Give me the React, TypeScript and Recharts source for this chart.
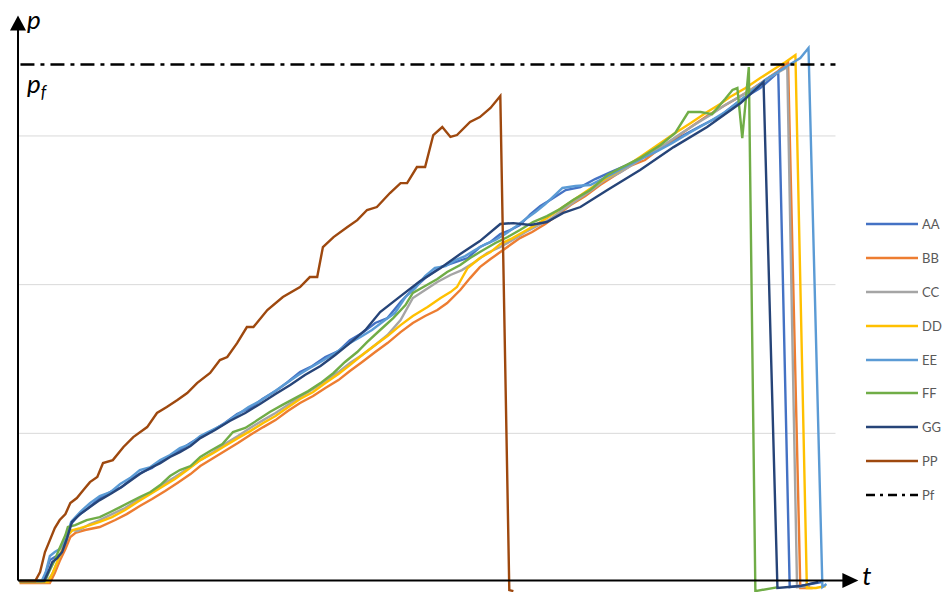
import React from 'react';
import { LineChart, Line, XAxis, YAxis, ReferenceLine, ReferenceDot, Legend } from 'recharts';

// ---- data (t: time units 0..100 across the grid, p: pressure, gridlines every 100) ----
const seriesNames = ['AA', 'BB', 'CC', 'DD', 'EE', 'FF', 'GG', 'PP'];
const seriesColors = ['#4472C4', '#ED7D31', '#A5A5A5', '#FFC000', '#5B9BD5', '#70AD47', '#264478', '#9E480E'];
const gridValues = [100, 200, 300];
const pfValue = 348;
const gridEndT = 100;

const AA: [number, number][] = [
  [0.2, 0.7], [3.1, 0.7], [3.5, 8.1], [3.9, 14.8], [4.5, 16.8], [5.1, 18.2], [5.8, 24.9], [6.4, 38.3], [7.3, 44.4], [8.6, 49.8],
  [10.0, 56.5], [11.5, 61.2], [12.7, 63.9], [14.0, 69.9], [15.2, 74.0], [16.4, 76.7], [17.4, 81.4], [18.6, 84.7], [19.8, 88.8], [21.1, 93.5],
  [22.3, 97.5], [23.7, 101.5], [25.3, 106.9], [26.8, 113.0], [28.4, 117.0], [29.9, 123.1], [31.5, 128.4], [33.0, 134.5], [34.5, 141.2], [36.0, 145.3],
  [37.6, 151.3], [39.2, 155.3], [40.6, 162.7], [42.1, 167.5], [43.7, 174.2], [45.2, 177.5], [46.8, 188.3], [48.2, 196.4], [49.8, 204.4], [51.7, 211.8],
  [53.5, 215.2], [55.0, 217.9], [56.5, 225.3], [57.8, 228.7], [59.0, 234.0], [60.2, 236.7], [61.4, 240.1], [62.7, 247.5], [63.9, 252.9], [65.1, 256.9],
  [67.0, 263.6], [68.8, 265.6], [70.6, 271.0], [72.5, 275.7], [74.5, 280.4], [76.7, 286.5], [78.6, 291.9], [81.0, 299.3], [83.5, 306.7], [85.9, 313.4],
  [88.4, 324.2], [90.8, 332.2], [93.0, 343.0], [94.4, -3.4], [96.3, -2.0], [98.3, 0],
];
const BB: [number, number][] = [
  [0.2, -0.7], [3.9, -0.7], [4.5, 6.1], [5.1, 14.1], [5.8, 22.2], [6.4, 30.3], [7.0, 33.0], [8.2, 35.0], [10.0, 37.0], [11.9, 41.7],
  [13.3, 45.7], [14.9, 51.1], [16.4, 55.8], [18.0, 61.2], [19.5, 66.6], [21.1, 72.6], [22.3, 78.0], [23.9, 83.4], [25.3, 88.1], [26.9, 93.5],
  [28.4, 98.9], [30.0, 104.2], [31.5, 108.9], [33.0, 115.0], [34.5, 120.4], [36.1, 125.1], [37.6, 130.5], [39.2, 135.8], [40.6, 141.9], [42.1, 148.0],
  [43.7, 154.7], [45.2, 160.7], [46.8, 168.1], [48.3, 174.2], [49.8, 178.9], [51.3, 182.9], [52.5, 187.6], [54.1, 196.4], [55.3, 204.4], [56.5, 211.8],
  [57.8, 217.2], [59.0, 221.9], [60.2, 226.6], [61.4, 231.3], [62.9, 235.4], [64.5, 240.8], [66.0, 246.8], [67.6, 253.5], [69.4, 259.6], [71.2, 267.0],
  [73.1, 273.7], [74.9, 279.8], [76.7, 283.8], [78.6, 291.9], [80.4, 298.6], [82.3, 306.0], [84.1, 312.7], [85.9, 318.8], [87.8, 324.8], [89.6, 330.9],
  [91.4, 337.6], [93.0, 343.7], [94.2, 349.7], [95.7, -4.0], [97.2, -4.0],
];
const CC: [number, number][] = [
  [0.2, 0], [3.5, 0], [4.2, 5.4], [4.8, 13.5], [5.4, 21.5], [6.0, 30.3], [6.6, 35.0], [7.3, 34.3], [8.8, 39.0], [10.0, 41.7],
  [11.5, 45.7], [13.1, 49.8], [14.6, 55.1], [16.2, 59.9], [17.6, 65.2], [19.2, 70.6], [20.7, 76.0], [22.3, 82.0], [23.9, 87.4], [25.3, 92.8],
  [26.9, 98.2], [28.4, 103.6], [30.0, 108.9], [31.5, 113.7], [33.0, 119.0], [34.5, 124.4], [36.1, 129.8], [37.6, 135.2], [39.2, 141.2], [40.6, 147.3],
  [42.1, 152.7], [43.7, 159.4], [45.2, 166.1], [46.8, 176.2], [48.3, 191.0], [49.8, 196.4], [51.3, 201.8], [52.9, 206.5], [54.3, 209.8], [55.9, 215.2],
  [57.4, 221.3], [59.0, 225.3], [60.5, 230.0], [62.1, 235.4], [63.5, 239.4], [65.1, 244.1], [66.6, 250.2], [68.2, 256.2], [70.0, 262.9], [71.8, 270.3],
  [73.7, 275.7], [75.5, 281.8], [77.4, 288.5], [79.2, 294.6], [81.0, 301.3], [82.9, 308.0], [84.7, 314.1], [86.5, 320.8], [88.4, 326.8], [90.2, 332.9],
  [92.0, 339.6], [94.1, 346.3], [95.3, -3.4], [96.9, -2.7],
];
const DD: [number, number][] = [
  [0.2, 0], [3.7, 0], [4.3, 6.7], [4.9, 14.8], [5.5, 22.9], [6.1, 31.6], [6.7, 35.0], [7.6, 36.3], [8.8, 38.3], [10.0, 40.4],
  [11.5, 43.7], [13.1, 48.4], [14.6, 53.8], [16.2, 59.2], [17.6, 63.9], [19.2, 69.3], [20.7, 75.3], [22.3, 82.0], [23.9, 86.8], [25.3, 91.5],
  [26.9, 96.8], [28.4, 101.5], [30.0, 106.9], [31.5, 111.6], [32.9, 117.0], [34.5, 123.1], [36.1, 127.8], [37.6, 133.8], [39.2, 139.9], [40.6, 145.9],
  [42.1, 152.7], [43.7, 159.4], [45.2, 165.4], [46.8, 172.8], [48.3, 178.9], [50.1, 184.9], [51.7, 191.0], [52.9, 195.0], [53.7, 198.4], [55.0, 211.2],
  [56.5, 217.9], [57.8, 221.9], [59.0, 227.3], [60.5, 231.3], [61.8, 235.4], [63.3, 240.1], [64.7, 244.8], [66.3, 250.8], [67.6, 255.6], [69.4, 262.3],
  [71.2, 269.0], [73.7, 277.1], [76.1, 285.8], [78.6, 295.2], [80.2, 301.3], [82.3, 308.7], [84.3, 316.1], [85.9, 321.5], [87.1, 326.2], [89.0, 332.2],
  [90.8, 338.9], [92.7, 345.7], [93.9, 349.7], [95.1, 354.4], [96.5, -4.0], [97.6, -4.0], [98.8, -2.7],
];
const EE: [number, number][] = [
  [0.2, 0.7], [2.9, 0.7], [3.4, 6.7], [3.9, 17.5], [4.5, 20.2], [5.1, 22.2], [5.9, 29.6], [6.5, 40.4], [7.6, 47.1], [8.8, 53.1],
  [10.0, 57.8], [11.3, 60.5], [12.5, 65.9], [13.7, 69.9], [14.9, 75.3], [16.2, 77.3], [17.4, 82.0], [18.6, 85.4], [19.8, 90.1], [21.1, 92.8],
  [22.3, 98.2], [23.5, 101.5], [25.0, 105.6], [26.6, 111.6], [28.2, 117.7], [29.6, 121.7], [31.1, 127.1], [32.7, 133.2], [34.3, 139.2], [35.7, 143.9],
  [37.2, 148.6], [38.8, 154.0], [40.4, 160.1], [41.9, 164.8], [43.3, 169.5], [44.9, 176.2], [46.1, 180.9], [47.4, 191.7], [48.6, 197.7], [49.8, 205.8],
  [51.0, 211.2], [52.3, 212.5], [53.5, 216.5], [54.7, 219.2], [55.9, 223.3], [57.2, 227.3], [58.4, 230.0], [59.6, 234.0], [60.8, 238.7], [62.1, 244.1],
  [63.3, 248.8], [64.5, 254.2], [65.7, 260.3], [66.6, 265.0], [68.2, 266.3], [70.0, 267.0], [71.2, 270.3], [72.7, 274.4], [74.5, 279.8], [76.4, 285.1],
  [78.2, 289.8], [80.0, 295.2], [82.3, 302.6], [84.5, 309.4], [86.5, 316.1], [89.0, 326.8], [91.4, 337.6], [93.9, 346.3], [95.7, 352.4], [96.7, 359.1],
  [98.4, -3.4], [98.9, -1.3],
];
const FF: [number, number][] = [
  [0.2, 0.7], [3.3, 0.7], [3.9, 8.1], [4.5, 14.8], [5.1, 22.9], [5.8, 31.6], [6.1, 37.0], [7.0, 38.3], [8.4, 41.7], [10.0, 43.7],
  [11.3, 47.1], [12.5, 50.4], [13.7, 53.8], [14.9, 57.2], [16.2, 60.5], [17.4, 65.2], [18.6, 71.3], [19.8, 75.3], [21.1, 78.0], [22.3, 84.1],
  [23.5, 88.1], [25.0, 92.8], [26.3, 100.9], [27.8, 103.6], [29.3, 108.9], [30.8, 114.3], [32.3, 119.0], [33.9, 123.7], [35.5, 128.4], [37.0, 133.8],
  [38.6, 140.6], [40.0, 148.0], [41.5, 154.7], [42.7, 161.4], [44.3, 169.5], [45.9, 177.5], [47.4, 186.3], [48.3, 194.4], [49.8, 199.1], [51.3, 203.8],
  [52.5, 208.5], [54.1, 213.2], [55.3, 217.9], [56.5, 221.9], [58.4, 228.0], [59.9, 232.0], [61.4, 236.7], [63.0, 242.1], [64.7, 246.1], [66.3, 250.8],
  [67.9, 256.9], [70.0, 263.6], [72.1, 273.7], [73.7, 278.4], [76.1, 285.1], [78.6, 293.9], [80.4, 302.0], [82.0, 316.1], [83.5, 316.1], [84.9, 314.7],
  [86.5, 324.8], [87.4, 330.9], [88.0, 332.2], [88.6, 298.6], [89.4, 346.3], [90.2, -6.1], [93.0, -3.4],
];
const GG: [number, number][] = [
  [0.2, 0.7], [3.2, 0.7], [3.7, 6.7], [4.2, 13.5], [4.8, 16.1], [5.4, 20.2], [6.0, 29.6], [6.6, 40.4], [7.6, 45.7], [8.8, 50.4],
  [10.0, 55.1], [11.3, 59.2], [12.5, 63.2], [13.7, 67.9], [14.9, 72.6], [16.2, 76.7], [17.4, 80.0], [18.6, 84.1], [19.8, 87.4], [21.1, 91.5],
  [22.3, 96.8], [24.1, 102.2], [25.9, 108.3], [27.8, 113.7], [29.6, 119.7], [31.5, 126.4], [33.3, 132.5], [35.1, 139.2], [37.0, 145.3], [38.8, 152.7],
  [40.6, 160.7], [42.5, 169.5], [44.3, 181.6], [46.8, 192.3], [49.2, 202.4], [51.7, 211.2], [54.1, 220.6], [56.5, 229.3], [59.0, 240.8], [60.6, 241.4],
  [62.7, 240.1], [64.7, 242.1], [66.7, 248.2], [68.8, 252.2], [72.1, 263.6], [76.1, 277.1], [80.2, 292.5], [84.3, 306.0], [88.4, 322.1], [91.2, 336.3],
  [92.9, -4.0], [95.7, -2.7], [97.9, 0],
];
const PP: [number, number][] = [
  [0.2, 0.7], [2.1, 0.7], [2.7, 6.7], [3.3, 20.2], [3.9, 28.2], [4.5, 36.3], [5.1, 41.7], [5.8, 45.7], [6.4, 53.1], [7.2, 56.5],
  [8.0, 61.9], [8.8, 67.2], [9.7, 70.6], [10.4, 80.0], [11.6, 82.0], [12.9, 90.8], [14.1, 97.5], [15.8, 104.2], [17.0, 113.7], [18.2, 117.7],
  [19.5, 122.4], [20.7, 127.1], [21.9, 133.8], [23.5, 140.6], [24.7, 149.3], [25.6, 151.3], [26.8, 160.7], [28.0, 171.5], [28.8, 171.5], [30.5, 182.9],
  [32.4, 191.7], [34.5, 198.4], [35.7, 205.1], [36.6, 205.1], [37.3, 225.3], [38.6, 232.0], [40.3, 238.7], [41.5, 243.4], [42.7, 250.2], [43.9, 252.2],
  [45.5, 261.6], [46.8, 268.3], [47.6, 268.3], [48.8, 279.1], [49.8, 279.1], [50.8, 300.6], [51.9, 306.0], [52.9, 299.3], [53.7, 300.6], [55.3, 309.4],
  [56.5, 312.7], [57.8, 318.8], [59.0, 326.8], [60.1, -5.4], [60.6, -6.1],
];

const seriesData = [AA, BB, CC, DD, EE, FF, GG, PP];

// ---- layout / style ----
const W = 945;
const H = 592;
const T_DOMAIN: [number, number] = [0, 103];
const P_DOMAIN: [number, number] = [-6.7, 384.7];
const AXIS_P = 1;
const Y_ARROW_P = 381;
const Y_LINE_TOP_P = 372;
const X_ARROW_T = 102.8;
const X_LINE_END_T = 101;
const labelFont = 'Lato, "Open Sans", sans-serif';

const YArrow = (props: any) => {
  const { cx, cy } = props;
  return (
    <g>
      <polygon points={`${cx},${cy} ${cx - 8},${cy + 15} ${cx + 8},${cy + 15}`} fill="#000" />
      <text x={cx + 9} y={cy + 13} fontSize={26} fontStyle="italic" fontFamily={labelFont} fill="#000">p</text>
    </g>
  );
};

const XArrow = (props: any) => {
  const { cx, cy } = props;
  return (
    <g>
      <polygon points={`${cx},${cy} ${cx - 16},${cy - 7.5} ${cx - 16},${cy + 7.5}`} fill="#000" />
      <text x={cx + 4} y={cy + 4} fontSize={26} fontStyle="italic" fontFamily={labelFont} fill="#000">t</text>
    </g>
  );
};

const PfLabel = (props: any) => {
  const { cx, cy } = props;
  return (
    <text x={cx + 9} y={cy + 28} fontSize={26} fontStyle="italic" fontFamily={labelFont} fill="#000">
      p<tspan fontSize={17} dy={5}>f</tspan>
    </text>
  );
};

const legendItems = [
  ...seriesNames.map((n, i) => ({ name: n, color: seriesColors[i], dash: undefined as string | undefined })),
  { name: 'Pf', color: '#000', dash: '9 5 3 5' },
];

const LegendContent = () => (
  <div style={{ display: 'flex', flexDirection: 'column' }}>
    {legendItems.map((it) => (
      <div key={it.name} style={{ height: 33.9, display: 'flex', alignItems: 'center' }}>
        <svg width={52} height={6} style={{ display: 'block' }}>
          <line x1={0} y1={3} x2={52} y2={3} stroke={it.color} strokeWidth={2.5} strokeDasharray={it.dash} />
        </svg>
        <span style={{ marginLeft: 4, fontSize: 13, color: '#595959', fontFamily: labelFont, whiteSpace: 'nowrap' }}>{it.name}</span>
      </div>
    ))}
  </div>
);

export default function App() {
  const tables = seriesData.map((arr) => arr.map(([t, p]) => ({ t, p })));
  return (
    <div style={{ width: W, height: H, position: 'relative', background: '#fff' }}>
      <style>{`body{margin:0;overflow:hidden;background:#fff}`}</style>
      <LineChart width={W} height={H} margin={{ top: 10, right: 85, bottom: 0, left: 18 }}>
        <XAxis type="number" dataKey="t" domain={T_DOMAIN} hide allowDataOverflow />
        <YAxis type="number" dataKey="p" domain={P_DOMAIN} hide allowDataOverflow />
        {gridValues.map((g) => (
          <ReferenceLine key={g} segment={[{ x: 0, y: g }, { x: gridEndT, y: g }]} stroke="#D9D9D9" strokeWidth={1} />
        ))}
        {seriesNames.map((name, i) => (
          <Line
            key={name}
            data={tables[i]}
            dataKey="p"
            name={name}
            type="linear"
            stroke={seriesColors[i]}
            strokeWidth={2.4}
            dot={false}
            activeDot={false}
            isAnimationActive={false}
          />
        ))}
        <ReferenceLine segment={[{ x: 0.3, y: pfValue }, { x: gridEndT, y: pfValue }]} stroke="#000" strokeWidth={2.6} strokeDasharray="14 6 4 6" />
        <ReferenceLine segment={[{ x: 0, y: AXIS_P }, { x: X_LINE_END_T, y: AXIS_P }]} stroke="#000" strokeWidth={2} />
        <ReferenceLine segment={[{ x: 0, y: AXIS_P }, { x: 0, y: Y_LINE_TOP_P }]} stroke="#000" strokeWidth={2} />
        <ReferenceDot x={0} y={Y_ARROW_P} shape={YArrow} />
        <ReferenceDot x={X_ARROW_T} y={AXIS_P} shape={XArrow} />
        <ReferenceDot x={0} y={pfValue} shape={PfLabel} />
        <Legend
          layout="horizontal"
          verticalAlign="middle"
          align="center"
          content={<LegendContent />}
          wrapperStyle={{ left: 866, top: 207, width: 79, height: 310 }}
        />
      </LineChart>
    </div>
  );
}
